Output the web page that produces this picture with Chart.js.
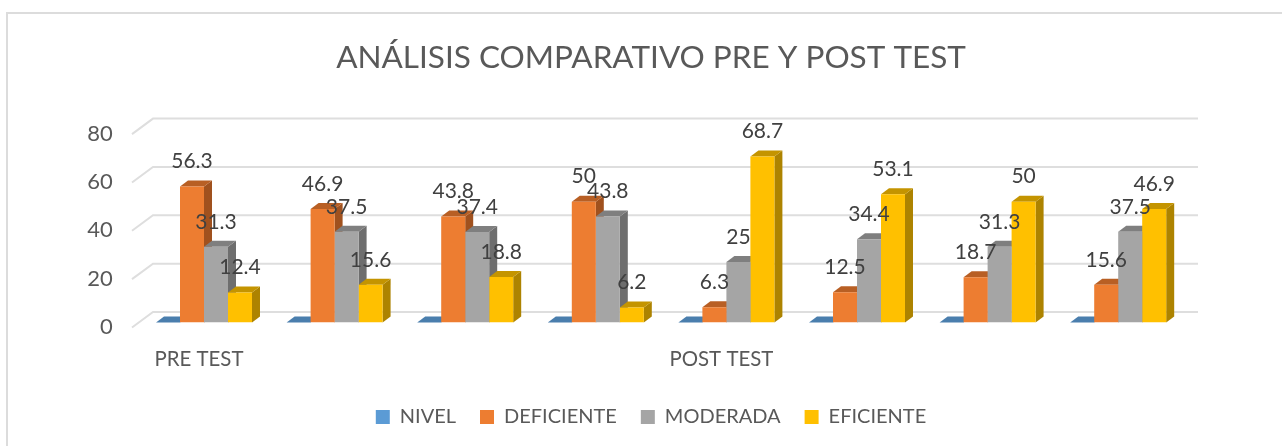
<!DOCTYPE html>
<html><head><meta charset="utf-8">
<script src="https://cdn.jsdelivr.net/npm/chart.js@4"></script>
<style>html,body{margin:0;padding:0;background:#fff}canvas{display:block}</style>
</head><body><canvas id="c" width="1282" height="446"></canvas>
<script>
const categories = ["PRE TEST","","","","POST TEST","","",""];
const nivel      = [0,0,0,0,0,0,0,0];
const deficiente = [56.3,46.9,43.8,50,6.3,12.5,18.7,15.6];
const moderada   = [31.3,37.5,37.4,43.8,25,34.4,31.3,37.5];
const eficiente  = [12.4,15.6,18.8,6.2,68.7,53.1,50,46.9];
const showLabel  = [false,true,true,true];
const yTicks = [0,20,40,60,80];
const FONT = 'Lato, Carlito, Calibri, sans-serif';
const DX = 8, DY = 6;
const faces = [
 {front:'#5B9BD5',top:'#4A7EAD',side:'#3E6C96'},
 {front:'#ED7D31',top:'#B85F24',side:'#A0511E'},
 {front:'#A5A5A5',top:'#7F7F7F',side:'#6E6E6E'},
 {front:'#FFC000',top:'#C49400',side:'#AD8300'}
];
const wall = {
 id:'wall',
 beforeDraw(ch){
  const c=ch.ctx,y=ch.scales.y,a=ch.chartArea;
  c.save();
  c.strokeStyle='#DCDCDC';c.lineWidth=2;
  c.beginPath();c.moveTo(7,446);c.lineTo(7,13);c.lineTo(1282,13);c.stroke();
  c.lineWidth=2;c.strokeStyle='#DEDEDE';
  yTicks.forEach(v=>{
   const p=y.getPixelForValue(v);
   c.beginPath();c.moveTo(a.left-6.7,p+5);c.lineTo(a.left+14.3,p-10.5);c.lineTo(a.right+14.5,p-10.5);c.stroke();
  });
  c.restore();
 },
 beforeDatasetsDraw(ch){
  const c=ch.ctx;
  c.save();
  ch.data.datasets.forEach((ds,i)=>{
   const f=faces[i];
   ch.getDatasetMeta(i).data.forEach(b=>{
    const l=b.x-b.width/2,r=b.x+b.width/2,t=b.y,bot=b.base;
    c.fillStyle=f.side;c.beginPath();c.moveTo(r,t);c.lineTo(r+DX,t-DY);c.lineTo(r+DX,bot-DY);c.lineTo(r,bot);c.closePath();c.fill();
    c.fillStyle=f.top;c.beginPath();c.moveTo(l,t);c.lineTo(l+DX,t-DY);c.lineTo(r+DX,t-DY);c.lineTo(r,t);c.closePath();c.fill();
   });
  });
  c.restore();
 },
 afterDatasetsDraw(ch){
  const c=ch.ctx;
  c.save();
  c.font='21px '+FONT;c.fillStyle='#404040';c.textAlign='center';c.textBaseline='middle';
  ch.data.datasets.forEach((ds,i)=>{
   if(!showLabel[i])return;
   ch.getDatasetMeta(i).data.forEach((b,j)=>c.fillText(String(ds.data[j]),b.x,b.y-25));
  });
  c.restore();
 }
};
function ds(label,data,i){return {label,data,backgroundColor:faces[i].front,borderWidth:0,categoryPercentage:0.735,barPercentage:1};}
new Chart(document.getElementById('c'),{
 type:'bar',
 data:{labels:categories,datasets:[ds('NIVEL',nivel,0),ds('DEFICIENTE',deficiente,1),ds('MODERADA',moderada,2),ds('EFICIENTE',eficiente,3)]},
 plugins:[wall],
 options:{
  responsive:false,animation:false,
  layout:{padding:{left:20,right:0,top:39,bottom:9}},
  plugins:{
   title:{display:true,text:'ANÁLISIS COMPARATIVO PRE Y POST TEST',color:'#595959',font:{family:FONT,size:31.5,weight:'normal'},padding:{top:0,bottom:52.3}},
   legend:{position:'bottom',labels:{boxWidth:14,boxHeight:14,padding:24,color:'#595959',font:{family:FONT,size:20}}},
   tooltip:{enabled:false}
  },
  scales:{
   x:{grid:{display:false},border:{display:false},afterFit(s){s.height=60.5;},
      ticks:{autoSkip:false,maxRotation:0,labelOffset:-5,padding:17,color:'#595959',font:{family:FONT,size:20.4}}},
   y:{min:0,max:80,grid:{display:false},border:{display:false},afterFit(s){s.width=118.7;},
      ticks:{stepSize:20,padding:18,labelOffset:4.5,color:'#595959',font:{family:FONT,size:22}}},
   yRightGap:{position:'right',display:true,min:0,max:80,grid:{display:false},border:{display:false},ticks:{display:false},afterFit(s){s.width=98.5;}}
  }
 }
});
</script></body></html>
